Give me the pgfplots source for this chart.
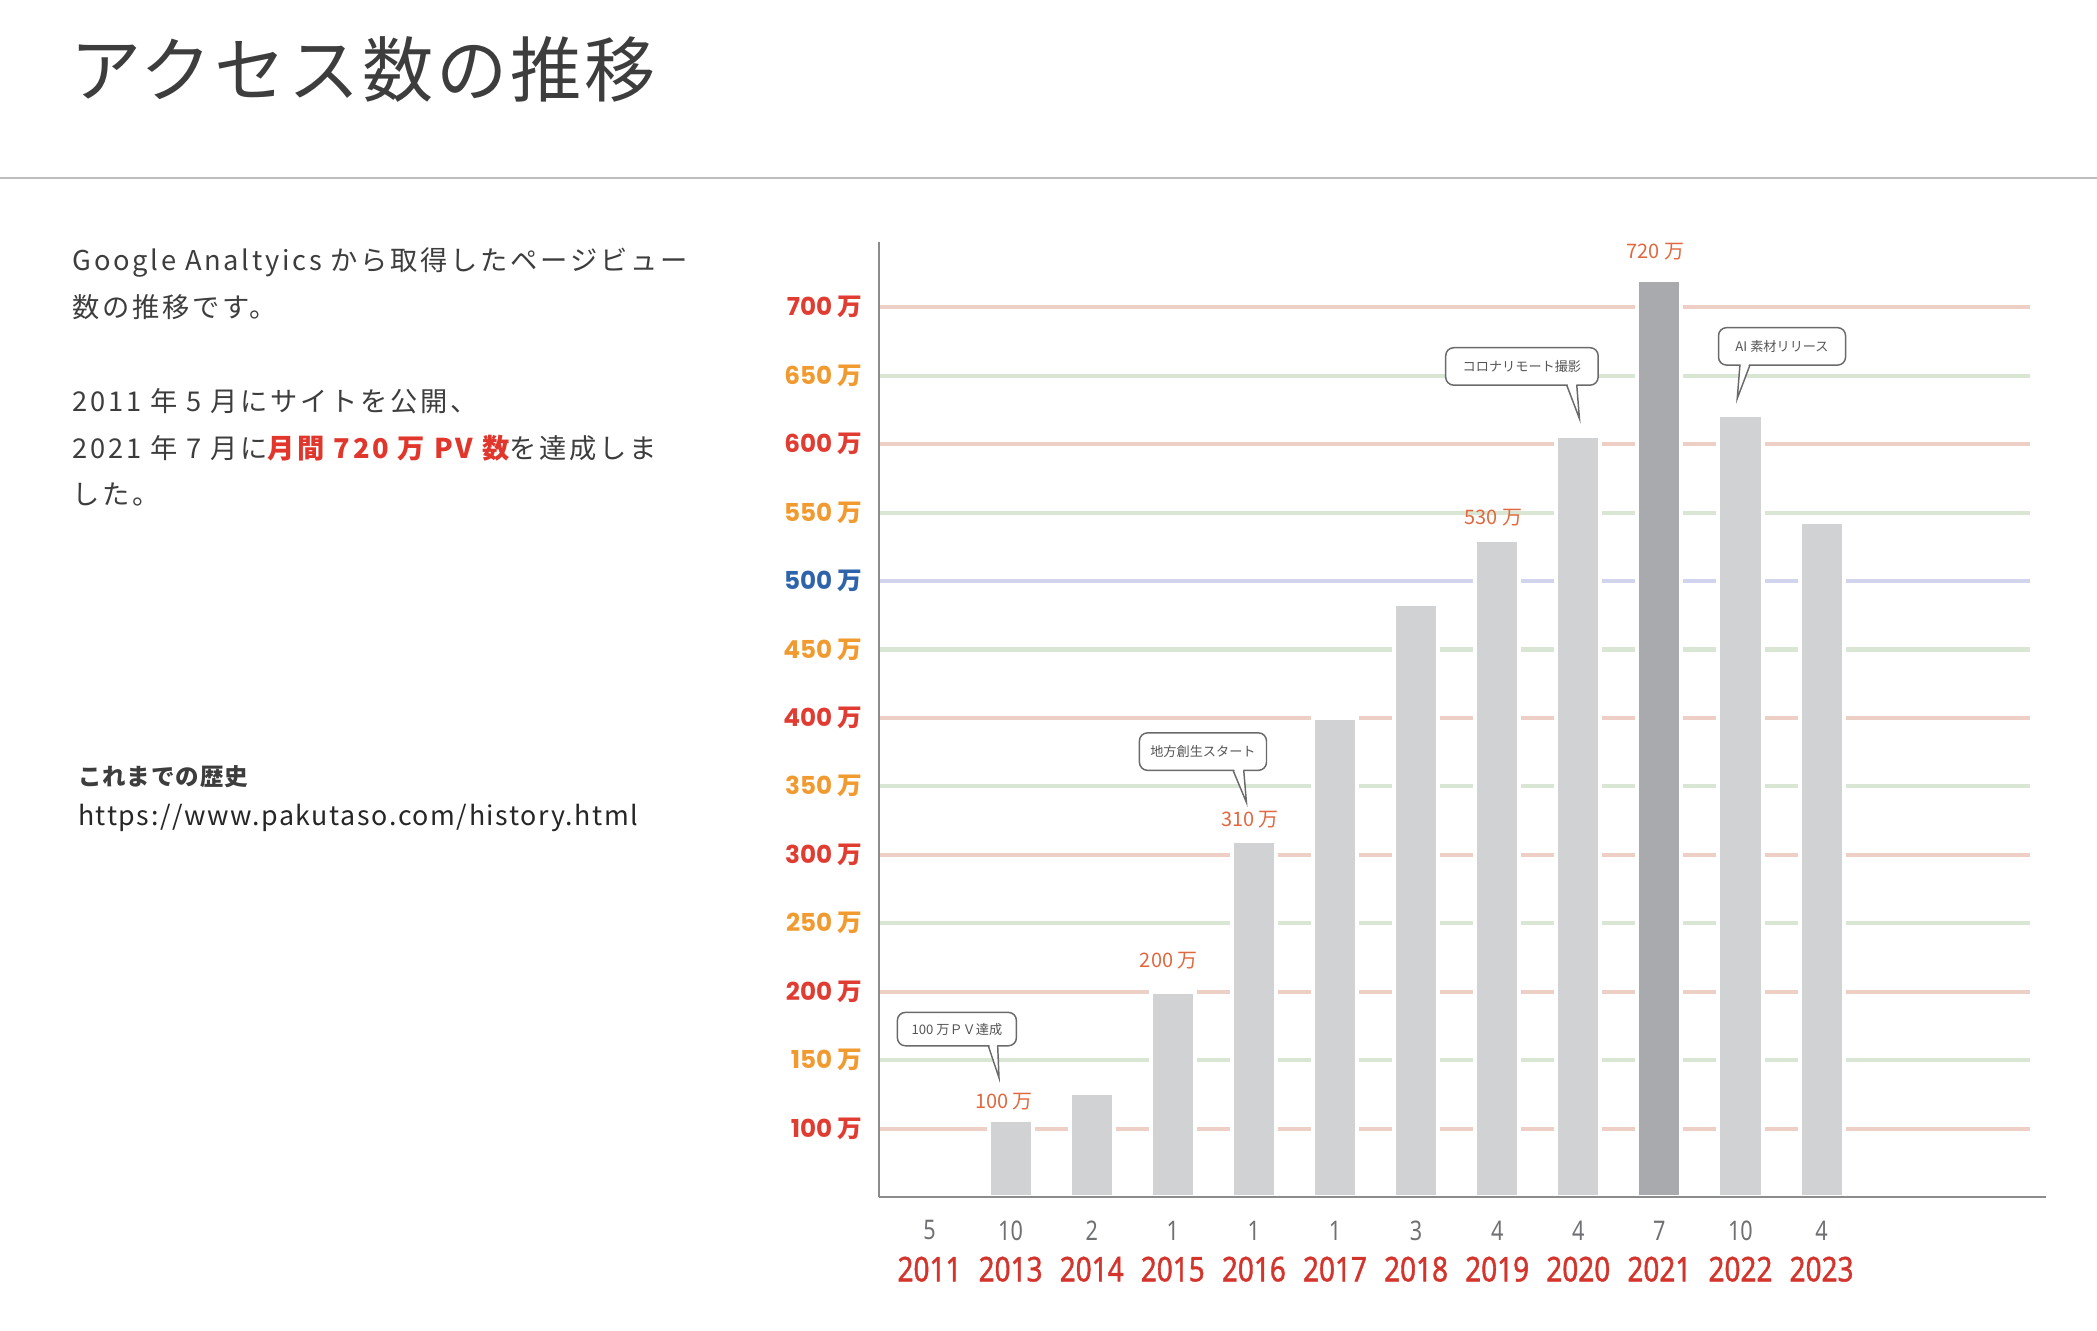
\documentclass[border=0pt]{standalone}
\usepackage{pgfplots}
\pgfplotsset{compat=1.18}
\usepackage{fontspec}
\setmainfont{Noto Sans CJK JP}
\newfontfamily\jp{Noto Sans CJK JP}
\newfontfamily\jpsp[LetterSpace=4]{Noto Sans CJK JP}
\newfontfamily\jpbody[LetterSpace=10]{Noto Sans CJK JP}
\newfontfamily\jpurl[LetterSpace=6]{Noto Sans CJK JP}
\newfontfamily\pop{Poppins}
\newfontfamily\cond[FakeStretch=0.8]{Noto Sans}
\newfontfamily\condb[FakeStretch=0.82,FakeBold=1.2]{Noto Sans}
\newcommand\fs[1]{\fontsize{#1}{#1}\selectfont}

\definecolor{txt}{HTML}{3D3D3D}
\definecolor{hl}{HTML}{E0362C}
\definecolor{rulec}{HTML}{BDBDBD}
\definecolor{cR}{HTML}{E03C32}
\definecolor{cO}{HTML}{F09A30}
\definecolor{cB}{HTML}{2F64AA}
\definecolor{gR}{HTML}{EECFC5}
\definecolor{gG}{HTML}{D9E6D4}
\definecolor{gB}{HTML}{D2D4EE}
\definecolor{barL}{HTML}{D1D2D4}
\definecolor{barD}{HTML}{A9AAAD}
\definecolor{axC}{HTML}{8C8C8C}
\definecolor{lab}{HTML}{E0683F}
\definecolor{moC}{HTML}{6F7073}
\definecolor{yrC}{HTML}{D3352D}
\definecolor{callC}{HTML}{6A6A6A}
\definecolor{callT}{HTML}{555555}

\newcommand\yl[2]{\textcolor{#1}{\pop\bfseries #2 {\jp\bfseries 万}}}
\newcommand\mofont{\cond\fs{11.5}}
\newcommand\yrfont{\condb\fs{14.5}}
\newcommand\blab[1]{{\jp\fs{8.5}\color{lab}#1 万}}

\begin{document}
\begin{tikzpicture}
\path[use as bounding box] (0,0) rectangle (313.6mm,-199mm);
\begin{scope}[x=0.2mm,y=-0.2mm]
  \node[anchor=west, inner sep=0pt, text=txt, font=\jpsp\fs{30.3}] at (52,52) {アクセス数の推移};
  \draw[rulec, line width=0.4mm] (0,133) -- (1568,133);
  \begin{scope}[every node/.style={anchor=west, inner sep=0pt, text=txt, font=\jpbody\fs{11.6}}]
    \node at (54,196) {Google Analtyics から取得したページビュー};
    \node at (54,230) {数の推移です。};
    \node at (54,300) {2011 年 5 月にサイトを公開、};
    \node at (54,335) {2021 年 7 月に{\color{hl}\bfseries 月間 720 万 PV 数}を達成しま};
    \node at (54,370) {した。};
  \end{scope}
  \node[anchor=west, inner sep=0pt, text=txt, font=\jpsp\bfseries\fs{10}] at (58,581) {これまでの歴史};
  \node[anchor=west, inner sep=0pt, text=black!85, font=\jpurl\fs{11.4}] at (58,612) {https://www.pakutaso.com/history.html};
\end{scope}

\begin{axis}[
  at={(131.4mm,-179mm)}, anchor=south west,
  scale only axis, width=174.6mm, height=142.8mm,
  xmin=-0.627, xmax=13.77, ymin=50, ymax=747.7,
  axis x line=bottom, axis y line=left,
  axis line style={-, draw=axC, line width=0.3mm},
  axis on top, clip mode=individual,
  xtick={0,...,11},
  xticklabels={5,10,2,1,1,1,3,4,4,7,10,4},
  xticklabel style={anchor=center, inner sep=0pt, yshift=-5mm, font=\mofont, text=moC},
  extra x ticks={0,...,11},
  extra x tick labels={2011,2013,2014,2015,2016,2017,2018,2019,2020,2021,2022,2023},
  extra x tick style={xticklabel style={yshift=-5.8mm, font=\yrfont, text=yrC}},
  ytick={100,150,...,700},
  yticklabels={{\yl{cR}{100}},{\yl{cO}{150}},{\yl{cR}{200}},{\yl{cO}{250}},{\yl{cR}{300}},{\yl{cO}{350}},{\yl{cR}{400}},{\yl{cO}{450}},{\yl{cB}{500}},{\yl{cO}{550}},{\yl{cR}{600}},{\yl{cO}{650}},{\yl{cR}{700}}},
  yticklabel style={anchor=east, inner sep=0pt, xshift=-2.4mm, font=\fs{10.5}},
  major tick length=0pt,
  tick style={draw=none},
]
  % grid lines
  \draw[gR, line width=0.6mm] (-0.627,100) -- (13.57,100);
  \draw[gG, line width=0.6mm] (-0.627,150) -- (13.57,150);
  \draw[gR, line width=0.6mm] (-0.627,200) -- (13.57,200);
  \draw[gG, line width=0.6mm] (-0.627,250) -- (13.57,250);
  \draw[gR, line width=0.6mm] (-0.627,300) -- (13.57,300);
  \draw[gG, line width=0.6mm] (-0.627,350) -- (13.57,350);
  \draw[gR, line width=0.6mm] (-0.627,400) -- (13.57,400);
  \draw[gG, line width=0.6mm] (-0.627,450) -- (13.57,450);
  \draw[gB, line width=0.6mm] (-0.627,500) -- (13.57,500);
  \draw[gG, line width=0.6mm] (-0.627,550) -- (13.57,550);
  \draw[gR, line width=0.6mm] (-0.627,600) -- (13.57,600);
  \draw[gG, line width=0.6mm] (-0.627,650) -- (13.57,650);
  \draw[gR, line width=0.6mm] (-0.627,700) -- (13.57,700);
  % bars
  \addplot[ybar, bar shift=0pt, bar width=6.6mm, fill=barL, draw=white, line width=0.6mm]
    coordinates {(1,106) (2,126) (3,200) (4,310) (5,400) (6,483) (7,530) (8,606) (10,621) (11,543)};
  \addplot[ybar, bar shift=0pt, bar width=6.6mm, fill=barD, draw=white, line width=0.6mm]
    coordinates {(9,720)};
  % value labels
  \node[anchor=center, inner sep=0pt, xshift=-1mm, yshift=2.8mm] at (1,106) {\blab{100}};
  \node[anchor=center, inner sep=0pt, xshift=-0.6mm, yshift=4.6mm] at (3,200) {\blab{200}};
  \node[anchor=center, inner sep=0pt, xshift=-0.6mm, yshift=3.2mm] at (4,310) {\blab{310}};
  \node[anchor=center, inner sep=0pt, xshift=-0.6mm, yshift=3.4mm] at (7,530) {\blab{530}};
  \node[anchor=center, inner sep=0pt, xshift=-0.6mm, yshift=4.2mm] at (9,720) {\blab{720}};
\end{axis}

\begin{scope}[x=0.2mm,y=-0.2mm]
  \tikzset{cbox/.style={draw=callC, line width=0.22mm, fill=white, rounded corners=1.2mm},
           ctail/.style={draw=callC, line width=0.22mm},
           ctext/.style={inner sep=0pt, text=callT, font=\jp\fs{5.6}}}
  % callout 1
  \draw[cbox] (671,757) rectangle (760,782);
  \fill[white] (739.6,780.6) -- (747,806) -- (745.6,780.6) -- cycle;
  \draw[ctail] (739,782) -- (747,806) -- (746,782);
  \node[ctext] at (715.5,769.5) {100 万ＰＶ達成};
  % callout 2
  \draw[cbox] (852,548) rectangle (947,576);
  \fill[white] (922.6,574.6) -- (932,600) -- (929.6,574.6) -- cycle;
  \draw[ctail] (922,576) -- (932,600) -- (930,576);
  \node[ctext] at (899.5,562) {地方創生スタート};
  % callout 3
  \draw[cbox] (1081,260) rectangle (1195,288);
  \fill[white] (1172,286.6) -- (1181,313) -- (1178.6,286.6) -- cycle;
  \draw[ctail] (1171.5,288) -- (1181,313) -- (1179,288);
  \node[ctext] at (1138,274) {コロナリモート撮影};
  % callout 4
  \draw[cbox] (1285,245) rectangle (1380,273);
  \fill[white] (1301.6,271.6) -- (1299,298) -- (1308,271.6) -- cycle;
  \draw[ctail] (1301,273) -- (1299,298) -- (1308.5,273);
  \node[ctext] at (1332.5,259) {AI 素材リリース};
\end{scope}
\end{tikzpicture}
\end{document}
